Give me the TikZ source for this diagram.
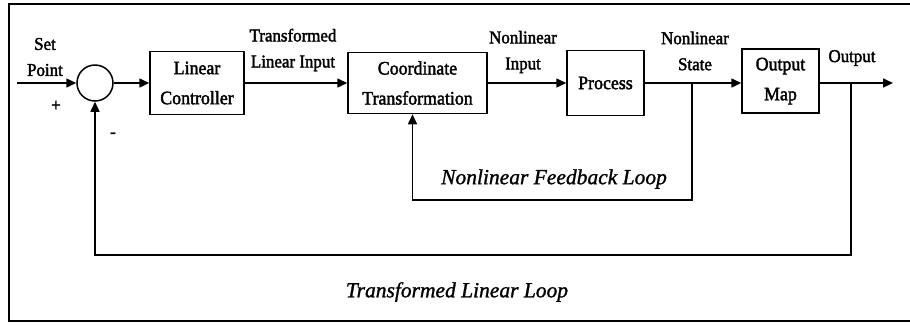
\documentclass[tikz,border=0pt]{standalone}
\usepackage{fontspec}
\setmainfont{Liberation Serif}
\newfontfamily\dfont{Liberation Serif}[FakeStretch=0.94,FakeBold=2]
\newfontfamily\ifont{Liberation Serif}[FakeBold=1.2]
\usetikzlibrary{arrows.meta}
\begin{document}
\begin{tikzpicture}[x=1pt,y=-1pt,
  line width=1.5pt,
  blk/.style={draw, rectangle, align=center, inner sep=0pt, font=\dfont\fontsize{19}{30}\selectfont},
  lbl/.style={align=center, inner sep=0pt, font=\dfont\fontsize{18}{26}\selectfont},
  itl/.style={inner sep=0pt, font=\ifont\fontsize{21.5}{24}\selectfont\itshape},
  sig/.style={-{Triangle[length=10pt,width=9pt]}},
]
\useasboundingbox (0,0) rectangle (910,325);
\draw[line width=1.7pt] (910,4) -- (9,4) -- (9,321) -- (910,321);

\coordinate (in) at (17,83);
\node[draw, circle, minimum size=36pt, inner sep=0pt] (sum) at (95,83) {};
\node[blk, minimum width=94pt, minimum height=63pt] (lc) at (197,83) {Linear\\Controller};
\node[blk, minimum width=139pt, minimum height=61pt] (ct) at (417.5,83) {Coordinate\\Transformation};
\node[blk, minimum width=77pt, minimum height=65pt] (pr) at (605.5,83) {Process};
\node[blk, minimum width=77pt, minimum height=64pt] (om) at (780.5,81) {Output\\Map};
\coordinate (out) at (893,83);
\coordinate (b1) at (692,83);
\coordinate (b2) at (851,83);
\coordinate (n1) at (692,200);
\coordinate (n2) at (851,255);

\draw[sig] (in) -- (sum.west);
\draw[sig] (sum.east) -- (lc.west);
\draw[sig] (lc.east) -- (ct.west);
\draw[sig] (ct.east) -- (pr.west);
\draw[sig] (pr.east) -- (om.west |- pr.east);
\draw[sig] (om.east |- out) -- (out);
\draw[sig] (b1) -- (n1) -| ([xshift=-5pt]ct.south);
\draw[sig] (b2) -- (n2) -| (sum.south);

\node[lbl] (sp) at (45,57) {Set\\Point};
\node[lbl] (plus) at (56,106) {+};
\node[lbl] (minus) at (113,135) {-};
\node[lbl] (tli) at (293,50) {Transformed\\Linear Input};
\node[lbl] (nli) at (523,52) {Nonlinear\\Input};
\node[lbl] (nls) at (695,51) {Nonlinear\\State};
\node[lbl] (outl) at (852,58) {Output};
\node[itl] (nfl) at (554,179) {Nonlinear Feedback Loop};
\node[itl] (tll) at (457,292) {Transformed Linear Loop};
\end{tikzpicture}
\end{document}
